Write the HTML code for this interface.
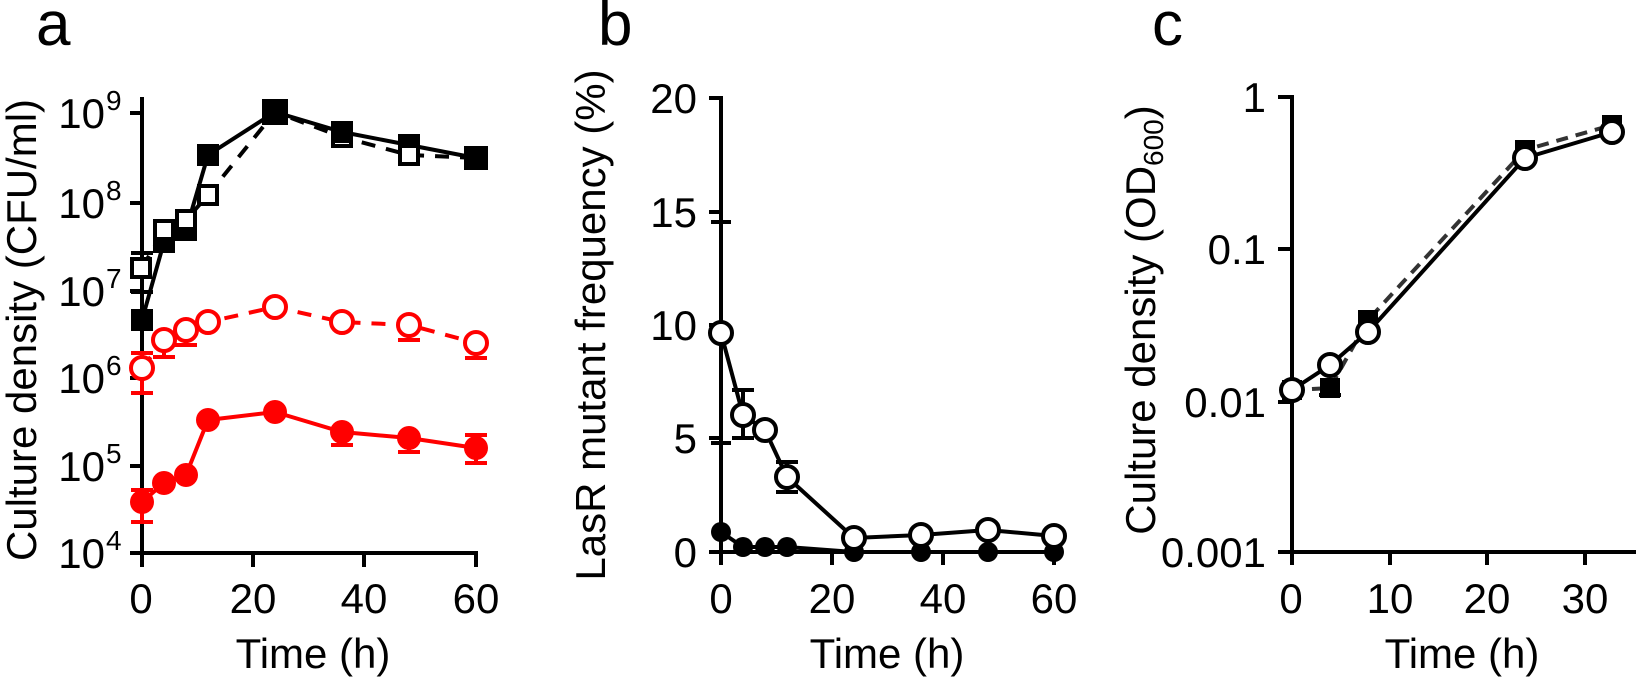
<!DOCTYPE html>
<html><head><meta charset="utf-8"><style>
html,body{margin:0;padding:0;background:#fff;}
svg{display:block;font-family:"Liberation Sans",Arial,sans-serif;}
</style></head><body>
<svg width="1636" height="679" viewBox="0 0 1636 679" xmlns="http://www.w3.org/2000/svg">
<g font-size="62" fill="#000">
<text x="36" y="45">a</text>
<text x="598" y="45">b</text>
<text x="1152" y="45">c</text>
</g>

<!-- Panel a -->
<g stroke="#000" stroke-width="4" fill="none">
<line x1="142" y1="97" x2="142" y2="555"/>
<line x1="130" y1="553" x2="478" y2="553"/>
<line x1="130" y1="113" x2="142" y2="113"/>
<line x1="130" y1="203" x2="142" y2="203"/>
<line x1="130" y1="291" x2="142" y2="291"/>
<line x1="130" y1="378" x2="142" y2="378"/>
<line x1="130" y1="466" x2="142" y2="466"/>
<line x1="142" y1="553" x2="142" y2="567"/>
<line x1="253" y1="553" x2="253" y2="567"/>
<line x1="364" y1="553" x2="364" y2="567"/>
<line x1="476" y1="553" x2="476" y2="567"/>
</g>
<g font-size="42" text-anchor="end" fill="#000">
<text x="105" y="128">10</text><text x="106" y="110" font-size="28" text-anchor="start">9</text>
<text x="105" y="218">10</text><text x="106" y="200" font-size="28" text-anchor="start">8</text>
<text x="105" y="306">10</text><text x="106" y="288" font-size="28" text-anchor="start">7</text>
<text x="105" y="393">10</text><text x="106" y="375" font-size="28" text-anchor="start">6</text>
<text x="105" y="481">10</text><text x="106" y="463" font-size="28" text-anchor="start">5</text>
<text x="105" y="568">10</text><text x="106" y="550" font-size="28" text-anchor="start">4</text>
</g>
<g font-size="42" text-anchor="middle" fill="#000">
<text x="141" y="613">0</text><text x="253" y="613">20</text><text x="364" y="613">40</text><text x="476" y="613">60</text>
<text x="313" y="668">Time (h)</text>
<text transform="translate(36,330) rotate(-90)">Culture density (CFU/ml)</text>
</g>
<!-- red filled -->
<g stroke="#f00" stroke-width="4" fill="none">
<polyline points="142,502 164,483 186,475 208,420 275,412 342,432 409,438 476,448"/>
<line x1="142" y1="490" x2="142" y2="522"/><line x1="131" y1="490" x2="153" y2="490"/><line x1="131" y1="522" x2="153" y2="522"/>
<line x1="342" y1="432" x2="342" y2="445"/><line x1="331" y1="445" x2="353" y2="445"/>
<line x1="409" y1="438" x2="409" y2="452"/><line x1="398" y1="452" x2="420" y2="452"/>
<line x1="476" y1="435" x2="476" y2="463"/><line x1="465" y1="435" x2="487" y2="435"/><line x1="465" y1="463" x2="487" y2="463"/>
<polyline points="142,368 164,340 186,330 208,322 275,307 342,322 409,325 476,343" stroke-dasharray="14,11"/>
<line x1="142" y1="353" x2="142" y2="393"/><line x1="131" y1="353" x2="153" y2="353"/><line x1="131" y1="393" x2="153" y2="393"/>
<line x1="164" y1="340" x2="164" y2="357"/><line x1="153" y1="357" x2="175" y2="357"/>
<line x1="186" y1="330" x2="186" y2="345"/><line x1="175" y1="345" x2="197" y2="345"/>
<line x1="409" y1="325" x2="409" y2="340"/><line x1="398" y1="340" x2="420" y2="340"/>
<line x1="476" y1="343" x2="476" y2="358"/><line x1="465" y1="358" x2="487" y2="358"/>
</g>
<g fill="#f00">
<circle cx="142" cy="502" r="12"/><circle cx="164" cy="483" r="12"/><circle cx="186" cy="475" r="12"/><circle cx="208" cy="420" r="12"/><circle cx="275" cy="412" r="12"/><circle cx="342" cy="432" r="12"/><circle cx="409" cy="438" r="12"/><circle cx="476" cy="448" r="12"/>
</g>
<g fill="#fff" stroke="#f00" stroke-width="4">
<circle cx="142" cy="368" r="11"/><circle cx="164" cy="340" r="11"/><circle cx="186" cy="330" r="11"/><circle cx="208" cy="322" r="11"/><circle cx="275" cy="307" r="11"/><circle cx="342" cy="322" r="11"/><circle cx="409" cy="325" r="11"/><circle cx="476" cy="343" r="11"/>
</g>
<!-- black squares -->
<g stroke="#000" stroke-width="4" fill="none">
<polyline points="142,268 164,230 186,220 208,195 275,112 342,137 409,155 476,158" stroke-dasharray="14,11"/>
<polyline points="142,320 164,242 186,230 208,155 275,112 342,132 409,145 476,158"/>
<line x1="131" y1="292" x2="153" y2="292"/><line x1="131" y1="253" x2="153" y2="253"/>
</g>
<g fill="#000">
<rect x="131" y="309" width="22" height="22"/><rect x="153" y="231" width="22" height="22"/><rect x="175" y="219" width="22" height="22"/><rect x="197" y="144" width="22" height="22"/><rect x="262" y="99" width="26" height="26"/><rect x="331" y="121" width="22" height="22"/><rect x="398" y="134" width="22" height="22"/><rect x="464" y="146" width="24" height="24"/>
</g>
<g fill="#fff" stroke="#000" stroke-width="4">
<rect x="132" y="259" width="18" height="18"/><rect x="155" y="221" width="18" height="18"/><rect x="177" y="211" width="18" height="18"/><rect x="199" y="186" width="18" height="18"/><rect x="333" y="128" width="18" height="18" fill="none"/><rect x="400" y="146" width="18" height="18"/>
</g>
<g fill="#000"><rect x="331" y="121" width="22" height="16"/><rect x="398" y="134" width="22" height="13"/></g>

<!-- Panel b -->
<g stroke="#000" stroke-width="4" fill="none">
<line x1="721" y1="96" x2="721" y2="565"/>
<line x1="709" y1="552" x2="1060" y2="552"/>
<line x1="709" y1="98" x2="721" y2="98"/>
<line x1="709" y1="212" x2="721" y2="212"/>
<line x1="711" y1="222" x2="731" y2="222"/>
<line x1="709" y1="325" x2="721" y2="325"/>
<line x1="709" y1="438" x2="721" y2="438"/>
<line x1="711" y1="443" x2="731" y2="443"/>
<line x1="832" y1="552" x2="832" y2="565"/>
<line x1="943" y1="552" x2="943" y2="565"/>
<line x1="1054" y1="552" x2="1054" y2="565"/>
<polyline points="721,333 743,415 765,430 787,477 854,538 921,535 988,530 1054,536"/>
<polyline points="721,532 743,547 765,547 787,547 854,552 921,552 988,552 1054,552"/>
<line x1="743" y1="390" x2="743" y2="438"/><line x1="732" y1="390" x2="754" y2="390"/><line x1="732" y1="438" x2="754" y2="438"/>
<line x1="787" y1="462" x2="787" y2="492"/><line x1="776" y1="462" x2="798" y2="462"/><line x1="776" y1="492" x2="798" y2="492"/>
</g>
<g fill="#000">
<circle cx="721" cy="532" r="10"/><circle cx="743" cy="547" r="10"/><circle cx="765" cy="547" r="10"/><circle cx="787" cy="547" r="10"/><circle cx="854" cy="552" r="10"/><circle cx="921" cy="552" r="10"/><circle cx="988" cy="552" r="10"/><circle cx="1054" cy="552" r="10"/>
</g>
<g fill="#fff" stroke="#000" stroke-width="4">
<circle cx="721" cy="333" r="11"/><circle cx="743" cy="415" r="11"/><circle cx="765" cy="430" r="11"/><circle cx="787" cy="477" r="11"/><circle cx="854" cy="538" r="11"/><circle cx="921" cy="535" r="11"/><circle cx="988" cy="530" r="11"/><circle cx="1054" cy="536" r="11"/>
</g>
<g font-size="42" text-anchor="end" fill="#000">
<text x="697" y="113">20</text><text x="697" y="227">15</text><text x="697" y="340">10</text><text x="697" y="453">5</text><text x="697" y="567">0</text>
</g>
<g font-size="42" text-anchor="middle" fill="#000">
<text x="721" y="613">0</text><text x="832" y="613">20</text><text x="943" y="613">40</text><text x="1054" y="613">60</text>
<text x="887" y="668">Time (h)</text>
<text transform="translate(605,325) rotate(-90)">LasR mutant frequency (%)</text>
</g>

<!-- Panel c -->
<g stroke="#000" stroke-width="4" fill="none">
<line x1="1292" y1="95" x2="1292" y2="565"/>
<line x1="1278" y1="552" x2="1636" y2="552"/>
<line x1="1278" y1="97" x2="1292" y2="97"/>
<line x1="1278" y1="249" x2="1292" y2="249"/>
<line x1="1278" y1="402" x2="1292" y2="402"/>
<line x1="1390" y1="552" x2="1390" y2="565"/>
<line x1="1487" y1="552" x2="1487" y2="565"/>
<line x1="1585" y1="552" x2="1585" y2="565"/>
<polyline points="1292,390 1330,388 1368,320 1525,150 1612,125" stroke="#333" stroke-dasharray="12,8"/>
<polyline points="1292,390 1330,365 1368,332 1525,158 1612,132"/>
<line x1="1319" y1="395" x2="1341" y2="395"/>
</g>
<g fill="#000">
<rect x="1282" y="380" width="20" height="20"/><rect x="1320" y="378" width="20" height="20"/><rect x="1358" y="310" width="20" height="20"/><rect x="1515" y="140" width="20" height="20"/><rect x="1602" y="115" width="20" height="20"/>
</g>
<g fill="#fff" stroke="#000" stroke-width="4">
<circle cx="1292" cy="390" r="11"/><circle cx="1330" cy="365" r="11"/><circle cx="1368" cy="332" r="11"/><circle cx="1525" cy="158" r="11"/><circle cx="1612" cy="132" r="11"/>
</g>
<g font-size="42" text-anchor="end" fill="#000">
<text x="1266" y="112">1</text><text x="1266" y="264">0.1</text><text x="1266" y="417">0.01</text><text x="1266" y="567">0.001</text>
</g>
<g font-size="42" text-anchor="middle" fill="#000">
<text x="1291" y="613">0</text><text x="1390" y="613">10</text><text x="1487" y="613">20</text><text x="1585" y="613">30</text>
<text x="1462" y="668">Time (h)</text>
<text transform="translate(1155,320) rotate(-90)">Culture density (OD<tspan font-size="28" dy="8">600</tspan><tspan dy="-8">)</tspan></text>
</g>
</svg>
</body></html>
